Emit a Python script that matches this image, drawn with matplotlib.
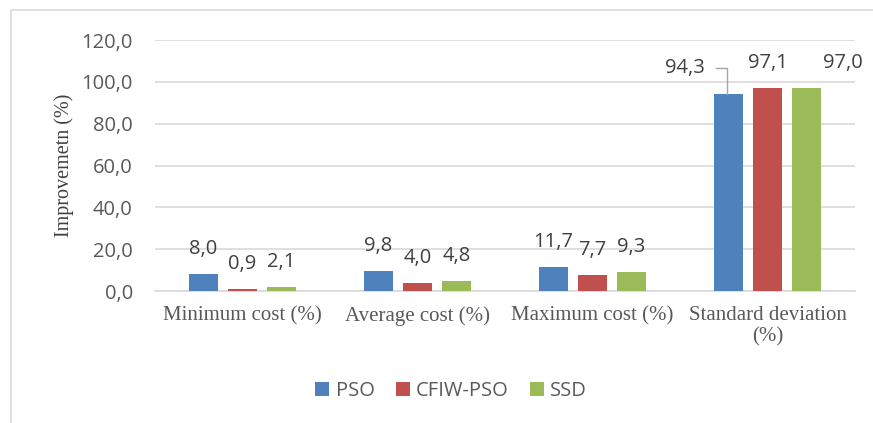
import matplotlib
matplotlib.use("Agg")
import matplotlib.pyplot as plt
import numpy as np
from matplotlib.patches import Rectangle

categories = ["Minimum cost (%)", "Average cost (%)", "Maximum cost (%)", "Standard deviation\n(%)"]
series_names = ["PSO", "CFIW-PSO", "SSD"]
pso = [8.0, 9.8, 11.7, 94.3]
cfiw = [0.9, 4.0, 7.7, 97.1]
ssd = [2.1, 4.8, 9.3, 97.0]
colors = ["#4f81bd", "#c0504d", "#9bbb59"]
yticks = [0, 20, 40, 60, 80, 100, 120]

def fmt(v):
    return f"{v:.1f}".replace(".", ",")

fig = plt.figure(figsize=(8.73, 4.23), dpi=100)
fig.patches.append(Rectangle((11/873, -0.1), 1.0, 1 - 10/423 + 0.1, transform=fig.transFigure,
                             fill=False, edgecolor="#d9d9d9", linewidth=1.2))
ax = fig.add_axes([155/873, 1 - 291/423, 700/873, 251/423])

x = np.arange(len(categories))
bw = 0.171
sp = 0.223
sans = "Open Sans"
serif = "Liberation Serif"
gray = "#595959"
dark = "#404040"
fs = 14.5
off = 18  # points above bar top (label centre)
all_series = [pso, cfiw, ssd]
for i, (vals, c, name) in enumerate(zip(all_series, colors, series_names)):
    xs = x + (i - 1) * sp
    ax.bar(xs, vals, width=bw, color=c, label=name, zorder=3)
    for j, (xx, v) in enumerate(zip(xs, vals)):
        if j == 3 and i == 0:
            ly = 106.6
            ax.text(xx - 0.246, ly, fmt(v), ha="center", va="center", fontsize=fs,
                    color=dark, family=sans, zorder=4)
            ax.plot([xx - 0.07, xx - 0.006, xx - 0.006], [ly, ly, v], color="#a6a6a6",
                    lw=1, zorder=4, clip_on=False)
        elif j == 3 and i == 2:
            ax.annotate(fmt(v), xy=(xx + 0.21, 97.1), xytext=(0, off), textcoords="offset points",
                        ha="center", va="center", fontsize=fs, color=dark, family=sans)
        else:
            ax.annotate(fmt(v), xy=(xx, v), xytext=(0, off), textcoords="offset points",
                        ha="center", va="center", fontsize=fs, color=dark, family=sans)

ax.set_xlim(-0.5, 3.5)
ax.set_ylim(0, 120)
ax.set_yticks(yticks)
ax.set_yticklabels([fmt(t) for t in yticks], fontsize=fs, color=gray, family=sans)
ax.set_xticks(x)
ax.set_xticklabels(categories, fontsize=15, color=gray, family=serif, linespacing=1.15)
ax.tick_params(axis="x", length=0, pad=11)
ax.tick_params(axis="y", length=0, pad=16)
ax.grid(axis="y", color="#d9d9d9", linewidth=1.2, zorder=0)
for s in ["top", "right", "left"]:
    ax.spines[s].set_visible(False)
ax.spines["bottom"].set_color("#d9d9d9")
ax.spines["bottom"].set_linewidth(1.2)
ax.set_ylabel("Improvemetn (%)", fontsize=14.5, color=dark, family=serif, labelpad=5)

leg = fig.legend(loc="center", bbox_to_anchor=(451/873, 1 - 391/423), ncol=3, frameon=False,
                 handlelength=0.7, handleheight=0.7, columnspacing=1.05, handletextpad=0.3,
                 prop={"family": sans, "size": 14.5})
for t in leg.get_texts():
    t.set_color(gray)

fig.savefig("out.png", dpi=100)
